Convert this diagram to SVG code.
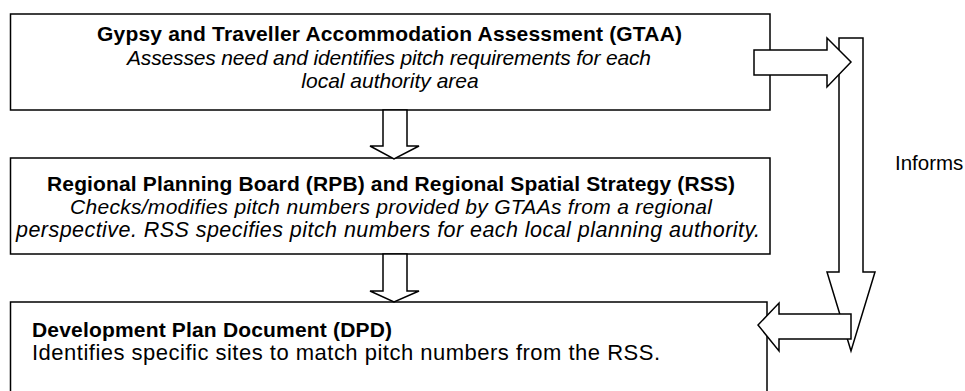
<svg xmlns="http://www.w3.org/2000/svg" width="965" height="391" viewBox="0 0 965 391">
<style>
.box{fill:#fff;stroke:#000;stroke-width:1.5}
.arr{fill:#fff;stroke:#000;stroke-width:1.5;stroke-linejoin:miter}
text{font-family:"Liberation Sans",Arial,sans-serif;font-size:21px;fill:#000}
.t{font-weight:bold}
.i{font-style:italic}
.c{text-anchor:middle}
</style>
<rect width="965" height="391" fill="#fff"/>
<g id="gtaa">
<rect class="box" x="10.5" y="14" width="759.5" height="96"/>
<text class="t" x="97" y="41" textLength="585" lengthAdjust="spacing">Gypsy and Traveller Accommodation Assessment (GTAA)</text>
<text class="i" x="127" y="65" textLength="524" lengthAdjust="spacing">Assesses need and identifies pitch requirements for each</text>
<text class="i c" x="390" y="88">local authority area</text>
</g>
<g id="rss">
<rect class="box" x="10.5" y="158" width="759.5" height="96"/>
<text class="t" x="47" y="191" textLength="688" lengthAdjust="spacing">Regional Planning Board (RPB) and Regional Spatial Strategy (RSS)</text>
<text class="i" x="70" y="214" textLength="642" lengthAdjust="spacing">Checks/modifies pitch numbers provided by GTAAs from a regional</text>
<text class="i" x="16" y="237" textLength="744" lengthAdjust="spacing" style="font-size:21.5px">perspective. RSS specifies pitch numbers for each local planning authority.</text>
</g>
<g id="dpd">
<rect class="box" x="10.5" y="302" width="756.5" height="100"/>
<text class="t" x="32" y="337" textLength="360" lengthAdjust="spacing">Development Plan Document (DPD)</text>
<text x="32" y="360" textLength="628" lengthAdjust="spacing" style="font-size:22px">Identifies specific sites to match pitch numbers from the RSS.</text>
</g>
<g id="connectors">
<polygon class="arr" points="383,110 407,110 407,146 419,146 394,159 370,146 383,146"/>
<polygon class="arr" points="383,254 407,254 407,291 419,291 394,302 370,291 383,291"/>
<polygon class="arr" points="839,38 863,38 863,272 875,272 851,351 827,272 839,272"/>
<polygon class="arr" points="754,50 827,50 827,38 851,62 827,87 827,75 754,75"/>
<polygon class="arr" points="851,314 779,314 779,303 758,325 779,351 779,339 851,339"/>
<text x="895" y="170" style="font-size:20.5px">Informs</text>
</g>
</svg>
